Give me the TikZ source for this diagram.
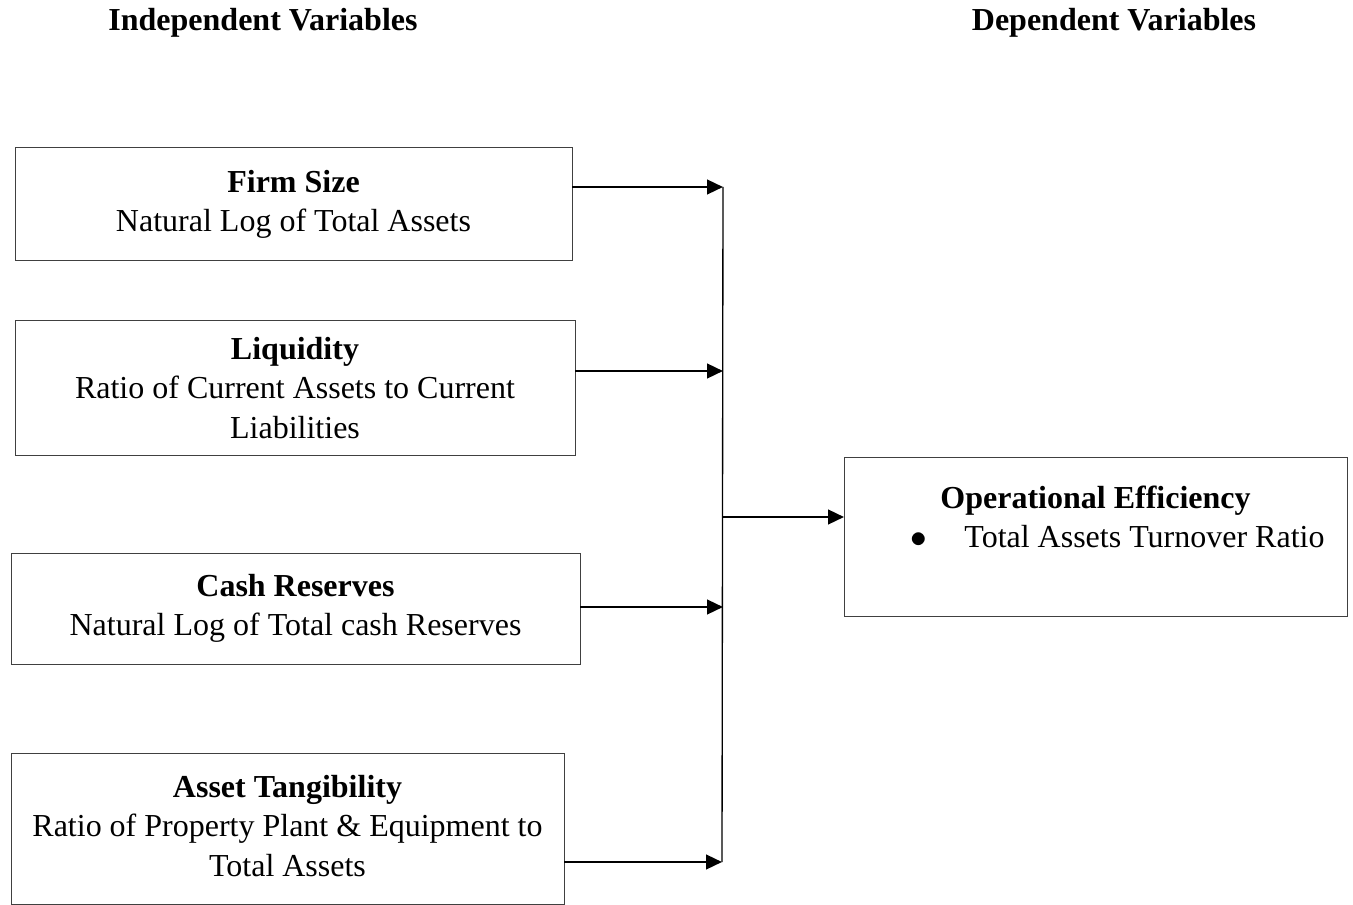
\documentclass[tikz,border=0pt]{standalone}
\usepackage{fontspec}
\setmainfont{Liberation Serif}
\usetikzlibrary{arrows.meta}
\tikzset{
    var-box/.style = {draw=black!75, line width=0.75pt, rectangle, inner sep=0pt, outer sep=0pt, align=center, font=\fontsize{24pt}{29.6pt}\selectfont},
    header-text/.style = {font=\fontsize{24pt}{29.6pt}\selectfont\bfseries},
    link-arrow/.style = {line width=1.8pt, -{Triangle[length=12pt,width=11pt]}},
}
\begin{document}
\begin{tikzpicture}[x=0.75pt,y=-0.75pt]
\useasboundingbox (0,0) rectangle (1353,905);
\node[header-text] (indep) at (263,23) {Independent Variables};
\node[header-text] (dep) at (1114,23) {Dependent Variables};

\node[var-box, minimum width=417.75pt, minimum height=84.75pt] (size) at (293.5,204.5)
    {\textbf{Firm Size}\\Natural Log of Total Assets};
\node[var-box, minimum width=420pt, minimum height=100.5pt] (liquid) at (295,388)
    {\textbf{Liquidity}\\Ratio of Current Assets to Current\\Liabilities};
\node[var-box, minimum width=426.75pt, minimum height=83.25pt] (cash) at (295.5,608.5)
    {\textbf{Cash Reserves}\\Natural Log of Total cash Reserves};
\node[var-box, minimum width=414.75pt, minimum height=113.25pt] (tangible) at (287.5,828.5)
    {\raisebox{4pt}{\textbf{Asset Tangibility}}\\\raisebox{4pt}{Ratio of Property Plant \& Equipment to}\\\raisebox{4pt}{Total Assets}};
\node[var-box, minimum width=377.25pt, minimum height=119.25pt] (effic) at (1095.5,536.5)
    {\textbf{Operational Efficiency}\\\hspace*{33pt}$\bullet$\hspace{28pt}Total Assets Turnover Ratio\\\mbox{}};

% joining line
\coordinate (top) at (723,187);
\coordinate (bottom) at (722,862);
\coordinate (mid) at (723,517);
\draw[line width=1pt] (top) -- (bottom);

\draw[link-arrow] (size.east |- top) -- (top);
\draw[link-arrow] (liquid.east |- 0,371) -- (top |- 0,371);
\draw[link-arrow] (cash.east |- 0,607) -- (top |- 0,607);
\draw[link-arrow] (tangible.east |- bottom) -- (bottom);
\draw[link-arrow] (mid) -- (effic.west |- mid);
\end{tikzpicture}
\end{document}
